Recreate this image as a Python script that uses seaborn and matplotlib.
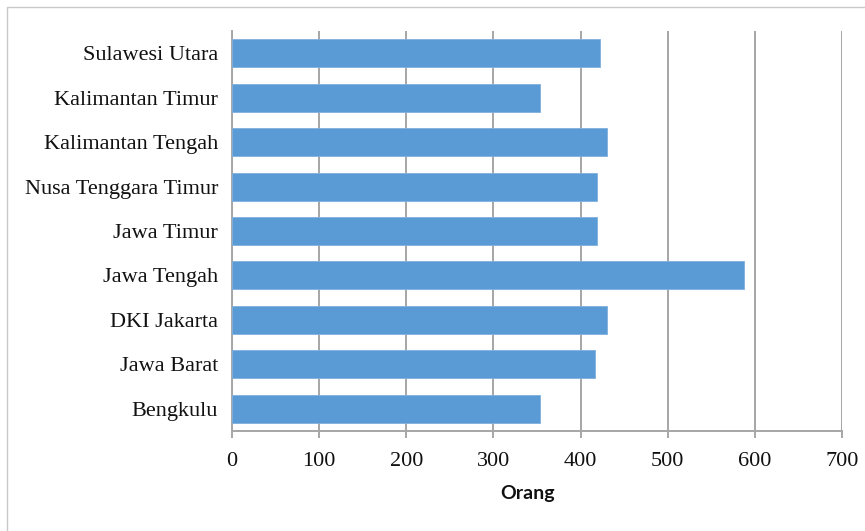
import matplotlib
matplotlib.use("Agg")
import matplotlib.pyplot as plt
import seaborn as sns
import pandas as pd
from matplotlib.patches import Rectangle

provinces = [
    "Sulawesi Utara",
    "Kalimantan Timur",
    "Kalimantan Tengah",
    "Nusa Tenggara Timur",
    "Jawa Timur",
    "Jawa Tengah",
    "DKI Jakarta",
    "Jawa Barat",
    "Bengkulu",
]
values = [422, 353, 430, 419, 419, 587, 430, 417, 353]
x_ticks = [0, 100, 200, 300, 400, 500, 600, 700]
x_title = "Orang"

df = pd.DataFrame({"Provinsi": provinces, "Orang": values})

sns.set_theme(style="white")
plt.rcParams["font.family"] = ["Liberation Serif", "DejaVu Serif"]

W, H = 865, 531
fig = plt.figure(figsize=(W / 100, H / 100), dpi=100)
ax = fig.add_axes([232 / W, 1 - 431 / H, (842 - 232) / W, (431 - 31) / H])

sns.barplot(data=df, x="Orang", y="Provinsi", color="#5b9bd5", saturation=1,
            width=0.63, edgecolor="#7fb0de", linewidth=0.6, ax=ax, zorder=3)

ax.set_xlim(0, 700)
ax.set_xticks(x_ticks)
ax.set_xticklabels([str(t) for t in x_ticks])
ax.xaxis.grid(True, color="#a6a6a6", linewidth=1.4, zorder=0)
ax.yaxis.grid(False)
ax.set_axisbelow(True)

for side in ("top", "right"):
    ax.spines[side].set_visible(False)
for side in ("left", "bottom"):
    ax.spines[side].set_color("#a6a6a6")
    ax.spines[side].set_linewidth(1.4)

ax.tick_params(axis="x", which="both", bottom=True, length=5, width=1.4,
               color="#a6a6a6", labelsize=16, pad=10, labelcolor="#111111")
ax.tick_params(axis="y", which="both", left=False, length=0, labelsize=16,
               pad=10, labelcolor="#111111")

ax.set_ylabel("")
ax.set_xlabel("")
fig.text(528 / W, 1 - 494 / H, x_title, ha="center", va="center",
         fontsize=14, fontweight="bold", family=["Lato", "DejaVu Sans"],
         color="#111111")

# outer frame around the chart area
fig.patches.append(Rectangle((7 / W, -0.05), 1.0, 1 - 7 / H + 0.05,
                             transform=fig.transFigure, fill=False,
                             edgecolor="#c8c8c8", linewidth=1.0))

fig.savefig("out.png", dpi=100)
